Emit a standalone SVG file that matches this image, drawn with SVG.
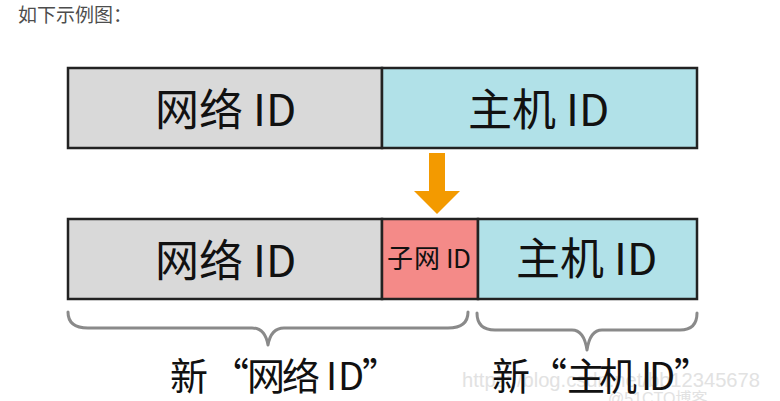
<svg xmlns="http://www.w3.org/2000/svg" width="780" height="401" viewBox="0 0 780 401">
<style>
.t{font-family:"Noto Sans CJK SC","Noto Sans",sans-serif;fill:#111}
.box{stroke:#222;stroke-width:2.5}
.gray{fill:#d9d9d9}
.cyan{fill:#b1e1e8}
.red{fill:#f48a88}
.brace{fill:none;stroke:#8a8a8a;stroke-width:3;stroke-linejoin:round;stroke-linecap:round}
.wm{font-family:"Liberation Sans","Noto Sans CJK SC",sans-serif;fill:#e2e2e2}
</style>
<rect width="780" height="401" fill="#fff"/>
<text x="18" y="22" font-family="Noto Sans CJK SC, sans-serif" font-size="19" fill="#4d4d4d">如下示例图：</text>

<g id="top-network">
<rect class="box gray" x="68" y="68" width="314" height="80"/>
<text class="t" font-size="44" x="155 199 253 266" y="126">网络ID</text>
</g>
<g id="top-host">
<rect class="box cyan" x="382" y="68" width="315" height="80"/>
<text class="t" font-size="44" x="468 512 566 579" y="126">主机ID</text>
</g>

<g id="connectors">
<path d="M429,153 H445 V191 H460 L437,214 L414,191 H429 Z" fill="#f39a00"/>
<path class="brace" d="M68,312 Q68,328 88,328 L252,328 Q265,328 268,345 Q271,328 284,328 L448,328 Q468,328 468,312"/>
<path class="brace" d="M477,313 Q477,330 495,330 L572,330 Q584,330 587,350 Q590,330 602,330 L680,330 Q697,330 697,313"/>
</g>

<g id="bottom-network">
<rect class="box gray" x="68" y="219" width="314" height="80"/>
<text class="t" font-size="44" x="155 199 253 266" y="277">网络ID</text>
</g>
<g id="bottom-subnet">
<rect class="box red" x="382" y="219" width="96" height="80"/>
<text class="t" font-size="26" x="387 414 446 453" y="268">子网ID</text>
</g>
<g id="bottom-host">
<rect class="box cyan" x="478" y="219" width="219" height="80"/>
<text class="t" font-size="44" x="516 560 614 627" y="275">主机ID</text>
</g>

<text class="wm" font-size="21" x="462" y="387" textLength="298" lengthAdjust="spacingAndGlyphs">https://blog.csdn.net/bb12345678</text>
<text class="wm" font-size="16" x="608" y="404">@51CTO博客</text>

<g id="label-new-network">
<text class="t" font-size="38" x="170 211 247 282 326 338 362" y="390">新“网络ID”</text>
</g>
<g id="label-new-host">
<text class="t" font-size="38" x="492 529 567 599 641 649 674" y="390">新“主机ID”</text>
</g>
</svg>
